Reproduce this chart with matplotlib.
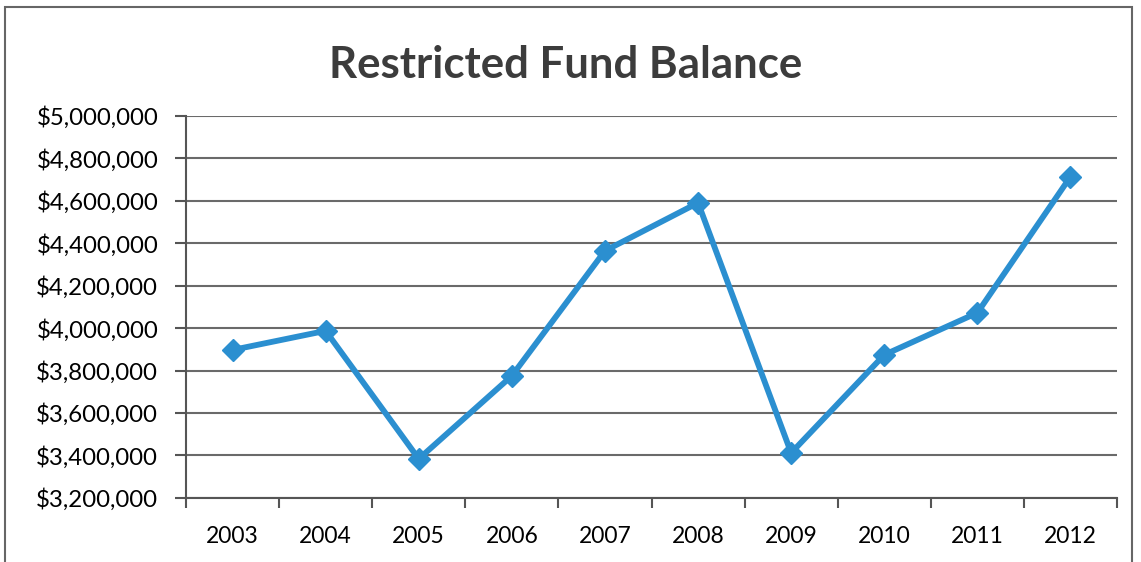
import matplotlib
matplotlib.use('Agg')
import matplotlib.pyplot as plt
from matplotlib.patches import Rectangle
from matplotlib.ticker import FuncFormatter, FixedLocator

years = ['2003', '2004', '2005', '2006', '2007', '2008', '2009', '2010', '2011', '2012']
balance = [3897000, 3987000, 3384000, 3775000, 4364000, 4590000, 3412000, 3874000, 4072000, 4713000]

plt.rcParams['font.family'] = ['Lato', 'DejaVu Sans']

fig = plt.figure(figsize=(11.41, 5.62), dpi=100)
ax = fig.add_axes([0.163, 0.114, 0.816, 0.680])

x = list(range(len(years)))
ax.plot(x, balance, color='#2b8fd0', lw=4.2, marker='D', ms=11,
        markeredgecolor='#2b8fd0', solid_joinstyle='miter')

ax.set_xlim(-0.5, len(years) - 0.5)
ax.set_ylim(3200000, 5000000)
ax.set_yticks(range(3200000, 5000001, 200000))
ax.yaxis.set_major_formatter(FuncFormatter(lambda v, p: '${:,.0f}'.format(v)))

ax.xaxis.set_major_locator(FixedLocator([i - 0.5 for i in range(len(years) + 1)]))
ax.xaxis.set_major_formatter(FuncFormatter(lambda v, p: ''))
ax.set_xticks(x, minor=True)
ax.set_xticklabels(years, minor=True)
ax.tick_params(axis='x', which='minor', length=0, pad=20, labelsize=16.5)
ax.tick_params(axis='x', which='major', length=7, width=1.5, color='#555555')
ax.tick_params(axis='y', length=8, width=1.5, color='#555555', labelsize=17.3, pad=12)

ax.grid(axis='y', color='#6a6a6a', lw=1.5)
ax.set_axisbelow(True)
for s in ['top', 'right']:
    ax.spines[s].set_visible(False)
ax.spines['left'].set_color('#555555')
ax.spines['left'].set_linewidth(1.5)
ax.spines['bottom'].set_color('#555555')
ax.spines['bottom'].set_linewidth(1.5)

fig.text(0.496, 0.884, 'Restricted Fund Balance', ha='center', va='center',
         fontsize=31.5, fontweight='bold', color='#3c3c3c')

fig.patches.append(Rectangle((5 / 1141, -0.05), 1127 / 1141, 1 - 7 / 562 + 0.05,
                             transform=fig.transFigure, fill=False,
                             edgecolor='#666666', lw=1.5))

fig.savefig('out.png', dpi=100)
